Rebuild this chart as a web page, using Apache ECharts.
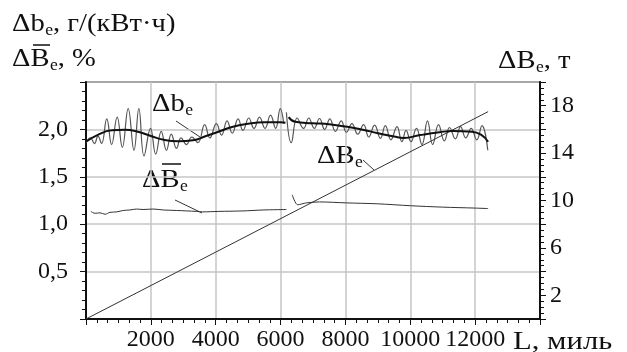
<!DOCTYPE html>
<html>
<head>
<meta charset="utf-8">
<script src="https://cdn.jsdelivr.net/npm/echarts@6.0.0/dist/echarts.min.js"></script>
<style>
  html, body { margin: 0; padding: 0; background: #fff; }
  #chart { width: 627px; height: 352px; }
</style>
</head>
<body>
<div id="chart"></div>
<script>
// Δb_e, г/(кВт·ч) — oscillating curve, read peak by peak (break near 6200 miles)
const dbOsc1 = [[0,1.86],[140,1.91],[260,1.85],[370,1.93],[480,1.85],[640,2.11],[790,1.84],[960,2.13],[1120,1.81],[1300,2.22],[1480,1.78],[1630,2.22],[1790,1.72],[1990,2.01],[2150,1.74],[2320,1.98],[2480,1.78],[2630,1.95],[2790,1.80],[2930,1.91],[3100,1.84],[3260,1.92],[3450,1.86],[3660,2.05],[3820,1.91],[4020,2.06],[4180,1.94],[4350,2.09],[4510,1.96],[4690,2.11],[4840,1.99],[5020,2.12],[5180,2.01],[5350,2.13],[5520,2.01],[5690,2.15],[5850,2.01],[5990,2.22],[6100,2.06]];
const dbOsc2 = [[6180,2.18],[6330,1.86],[6510,2.12],[6710,2.01],[6870,2.12],[7040,2.01],[7200,2.115],[7360,2.0],[7520,2.11],[7690,1.98],[7870,2.09],[8030,1.97],[8200,2.06],[8380,1.95],[8560,2.05],[8720,1.92],[8900,2.045],[9080,1.905],[9230,2.04],[9400,1.89],[9590,2.03],[9740,1.87],[9870,1.99],[10020,1.87],[10190,2.01],[10360,1.84],[10530,2.09],[10690,1.84],[10870,2.05],[11050,1.88],[11210,2.02],[11390,1.90],[11550,2.03],[11710,1.91],[11880,2.01],[12050,1.89],[12210,2.04],[12390,1.78]];
// Δb_e smoothed trend
const dbTrend1 = [[0,1.87],[350,1.94],[800,1.99],[1200,1.995],[1600,1.975],[2000,1.93],[2400,1.89],[2850,1.875],[3300,1.885],[3700,1.93],[4000,1.965],[4500,2.025],[5000,2.06],[5500,2.075],[6000,2.075],[6150,2.07]];
const dbTrend2 = [[6250,2.13],[6450,2.08],[7000,2.065],[7500,2.055],[8000,2.03],[8500,2.0],[9000,1.96],[9500,1.925],[9800,1.91],[10300,1.94],[10900,1.97],[11300,1.983],[11900,1.976],[12200,1.94],[12400,1.87]];
// ΔB̄_e, %
const bBar1 = [[150,1.135],[280,1.115],[430,1.12],[590,1.105],[740,1.125],[950,1.13],[1150,1.145],[1350,1.15],[1560,1.16],[1760,1.155],[2070,1.16],[2380,1.15],[2790,1.145],[3400,1.135],[3600,1.13],[4100,1.135],[4840,1.14],[5460,1.15],[6180,1.155]];
const bBar2 = [[6360,1.31],[6530,1.205],[6800,1.225],[7200,1.235],[8000,1.225],[9000,1.215],[10000,1.195],[11000,1.18],[12000,1.17],[12400,1.165]];
// ΔB_e, т (right axis)
const bTotal = [[0,0],[12400,17.5]];

const xTicks = { min: 0, max: 14000, step: 2000 };
const leftTicks = { min: 0, max: 2.5, step: 0.5 };
const rightTicks = { min: 0, max: 20, step: 2 };

const serif = '"Liberation Serif", "Times New Roman", serif';
const ink = '#111';
const stretch = 1.1; // the scanned original is a bit wider than Times

const chart = echarts.init(document.getElementById('chart'));

const mctx = document.createElement('canvas').getContext('2d');
function textWidth(t, size) {
  mctx.font = size + 'px ' + serif;
  return mctx.measureText(t).width * stretch;
}

// one text piece, placed by its baseline
function piece(x, base, t, size) {
  return { type: 'text', x: x, y: base - 0.3375 * size, scaleX: stretch,
    style: { text: t, fontSize: size, fontFamily: serif, fill: ink, verticalAlign: 'middle' } };
}

// "main" + subscript + optional tail
function subText(x, base, main, sub, tail) {
  const out = [piece(x, base, main, 26)];
  const xs = x + textWidth(main, 26) + 0.5;
  out.push(piece(xs, base + 3.5, sub, 16));
  if (tail) out.push(piece(xs + textWidth(sub, 16), base, tail, 26));
  return out;
}

function axisBase() {
  return {
    axisLine: { show: true, lineStyle: { color: ink, width: 2 } },
    axisTick: { show: true, inside: false, length: 6, lineStyle: { color: ink, width: 1 } },
    minorTick: { show: true, length: 4, lineStyle: { color: ink, width: 1 } },
    axisLabel: { color: ink, fontSize: 24, fontFamily: serif },
    splitLine: { show: true, lineStyle: { color: '#c6c6c6', width: 1.5 } }
  };
}

const xAx = axisBase();
const yL = axisBase();
const yR = axisBase();

const option = {
  animation: false,
  grid: { left: 86, right: 87, top: 82, bottom: 31, show: true, borderColor: ink, borderWidth: 1.5 },
  xAxis: {
    ...xAx,
    type: 'value', min: xTicks.min, max: xTicks.max, interval: xTicks.step,
    minorTick: { ...xAx.minorTick, splitNumber: 6 },
    axisLabel: { ...xAx.axisLabel, margin: 9,
      formatter: v => (v === xTicks.min || v === xTicks.max) ? '' : String(v) }
  },
  yAxis: [
    {
      ...yL,
      type: 'value', position: 'left', min: leftTicks.min, max: leftTicks.max, interval: leftTicks.step,
      minorTick: { ...yL.minorTick, splitNumber: 5 },
      axisLabel: { ...yL.axisLabel, margin: 18,
        formatter: v => (v === leftTicks.min || v === leftTicks.max) ? '' : v.toFixed(1).replace('.', ',') }
    },
    {
      ...yR,
      type: 'value', position: 'right', min: rightTicks.min, max: rightTicks.max, interval: rightTicks.step,
      minorTick: { ...yR.minorTick, splitNumber: 4 },
      splitLine: { show: false },
      axisLabel: { ...yR.axisLabel, margin: 10,
        formatter: v => (v % 4 === 2) ? String(v) : '' }
    }
  ],
  series: [
    { name: 'osc1', type: 'line', data: dbOsc1, showSymbol: false, smooth: 0.45,
      lineStyle: { color: '#555', width: 1.2 }, z: 3 },
    { name: 'osc2', type: 'line', data: dbOsc2, showSymbol: false, smooth: 0.45,
      lineStyle: { color: '#555', width: 1.2 }, z: 3 },
    { name: 'trend1', type: 'line', data: dbTrend1, showSymbol: false, smooth: true,
      lineStyle: { color: '#111', width: 2 }, z: 4 },
    { name: 'trend2', type: 'line', data: dbTrend2, showSymbol: false, smooth: true,
      lineStyle: { color: '#111', width: 2 }, z: 4 },
    { name: 'bbar1', type: 'line', data: bBar1, showSymbol: false, smooth: 0.3,
      lineStyle: { color: '#333', width: 1 } },
    { name: 'bbar2', type: 'line', data: bBar2, showSymbol: false, smooth: 0.3,
      lineStyle: { color: '#333', width: 1 } },
    { name: 'btotal', type: 'line', yAxisIndex: 1, data: bTotal, showSymbol: false,
      lineStyle: { color: '#333', width: 1 } }
  ],
  graphic: [
    // axis titles
    ...subText(12, 33, 'Δb', 'e', ', г/(кВт·ч)'),
    ...subText(12, 68, 'ΔB', 'e', ', %'),
    { type: 'line', shape: { x1: 33, y1: 45, x2: 50, y2: 45 }, style: { stroke: ink, lineWidth: 1.5 } },
    ...subText(498, 70, 'ΔB', 'e', ', т'),
    { type: 'text', x: 513, y: 329, scaleX: 1.18,
      style: { text: 'L, миль', fontSize: 26, fontFamily: serif, fill: ink, verticalAlign: 'top' } },
    // curve labels and leaders
    ...subText(152, 113, 'Δb', 'e'),
    { type: 'line', shape: { x1: 176, y1: 121, x2: 200, y2: 137 }, style: { stroke: '#333', lineWidth: 1 } },
    ...subText(142, 189, 'ΔB', 'e'),
    { type: 'line', shape: { x1: 162, y1: 164, x2: 181, y2: 164 }, style: { stroke: ink, lineWidth: 1.5 } },
    { type: 'line', shape: { x1: 175, y1: 200, x2: 202, y2: 213 }, style: { stroke: '#333', lineWidth: 1 } },
    ...subText(317, 165, 'ΔB', 'e'),
    { type: 'line', shape: { x1: 363, y1: 160, x2: 374, y2: 170 }, style: { stroke: '#333', lineWidth: 1 } }
  ]
};

chart.setOption(option);
window.addEventListener('resize', chart.resize);
</script>
</body>
</html>
